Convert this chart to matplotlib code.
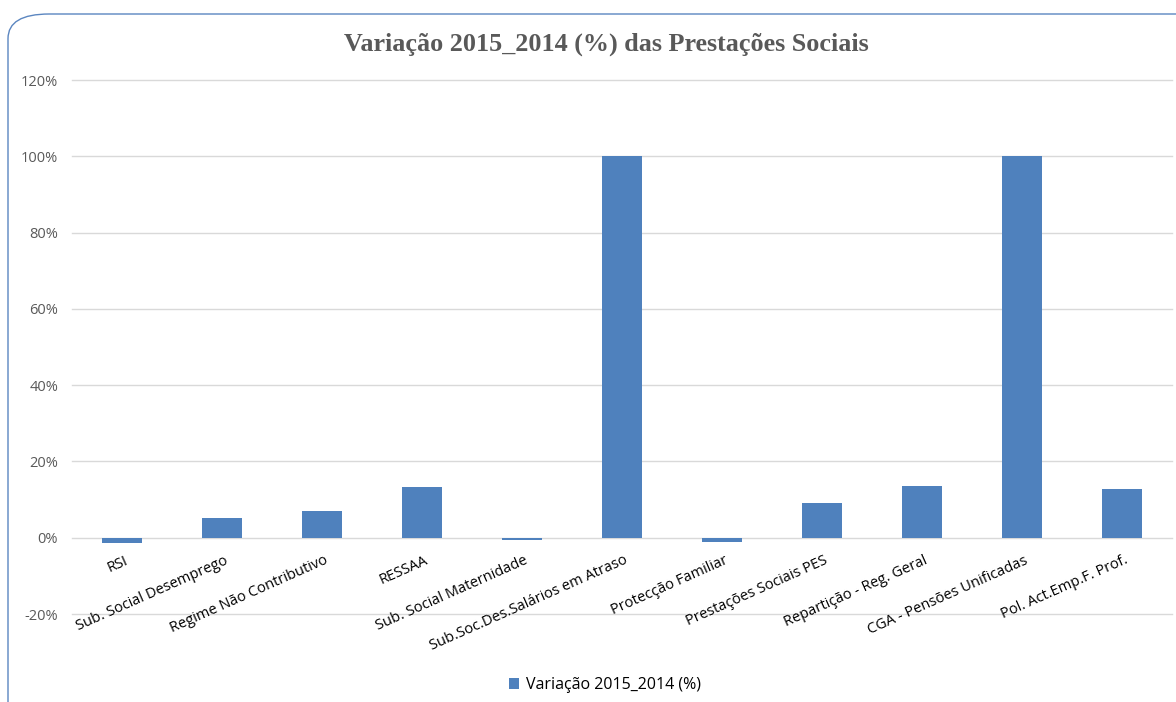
import matplotlib
matplotlib.use("Agg")
import matplotlib.pyplot as plt
from matplotlib.patches import FancyBboxPatch
from matplotlib.ticker import FuncFormatter

categories = [
    "RSI",
    "Sub. Social Desemprego",
    "Regime Não Contributivo",
    "RESSAA",
    "Sub. Social Maternidade",
    "Sub.Soc.Des.Salários em Atraso",
    "Protecção Familiar",
    "Prestações Sociais PES",
    "Repartição - Reg. Geral",
    "CGA - Pensões Unificadas",
    "Pol. Act.Emp.F. Prof.",
]
variacao = [-1.5, 5.2, 7.0, 13.2, -0.6, 100.0, -1.0, 9.1, 13.5, 100.0, 12.8]
y_ticks = [-20, 0, 20, 40, 60, 80, 100, 120]

bar_color = "#4F81BD"
text_gray = "#595959"
grid_gray = "#D9D9D9"

W, H = 1176, 702
fig = plt.figure(figsize=(W / 100, H / 100), dpi=100)
fig.patch.set_facecolor("white")

# chart border (rounded, runs off the right and bottom edges)
border = FancyBboxPatch(
    (8 / W, 1 - 760 / H), (1300 - 8) / W, (760 - 14) / H,
    boxstyle="round,pad=0,rounding_size=0.035",
    transform=fig.transFigure, facecolor="none",
    edgecolor="#5B86C0", linewidth=1.0, zorder=0,
)
fig.patches.append(border)

ax = fig.add_axes([72 / W, 1 - 614 / H, (1172 - 72) / W, (614 - 80) / H])
x = range(len(categories))
ax.bar(x, variacao, width=0.4, color=bar_color, zorder=3,
       label="Variação 2015_2014 (%)")

ax.set_xlim(-0.5, len(categories) - 0.5)
ax.set_ylim(-20, 120)
ax.set_yticks(y_ticks)
ax.yaxis.set_major_formatter(FuncFormatter(lambda v, p: f"{v:.0f}%"))
for yv in y_ticks:
    ax.axhline(yv, color=grid_gray, linewidth=1.0, zorder=1, clip_on=False)
for s in ax.spines.values():
    s.set_visible(False)
ax.tick_params(axis="both", length=0, colors=text_gray)
ax.tick_params(axis="y", pad=10, labelsize=10.5)

ax.set_xticks(list(x))
ax.set_xticklabels([])
for i, lab in enumerate(categories):
    ax.annotate(lab, xy=(i, 0), xycoords=("data", "data"),
                xytext=(1.5, -11), textcoords="offset points",
                rotation=24, rotation_mode="anchor", ha="right", va="top",
                fontsize=10.5, color="black", family="Open Sans")

for t in ax.get_yticklabels():
    t.set_family("Open Sans")

fig.text(606 / W, 1 - 44 / H, "Variação 2015_2014 (%) das Prestações Sociais",
         ha="center", va="center", fontsize=18.8, fontweight="bold",
         color=text_gray, family="Liberation Serif")

leg = fig.legend(loc="center", bbox_to_anchor=(605 / W, 1 - 685 / H),
                 frameon=False, handlelength=0.65, handleheight=0.65,
                 handletextpad=0.4, prop={"family": "Open Sans", "size": 11.5})
for t in leg.get_texts():
    t.set_color("black")

fig.savefig("out.png", dpi=100)
